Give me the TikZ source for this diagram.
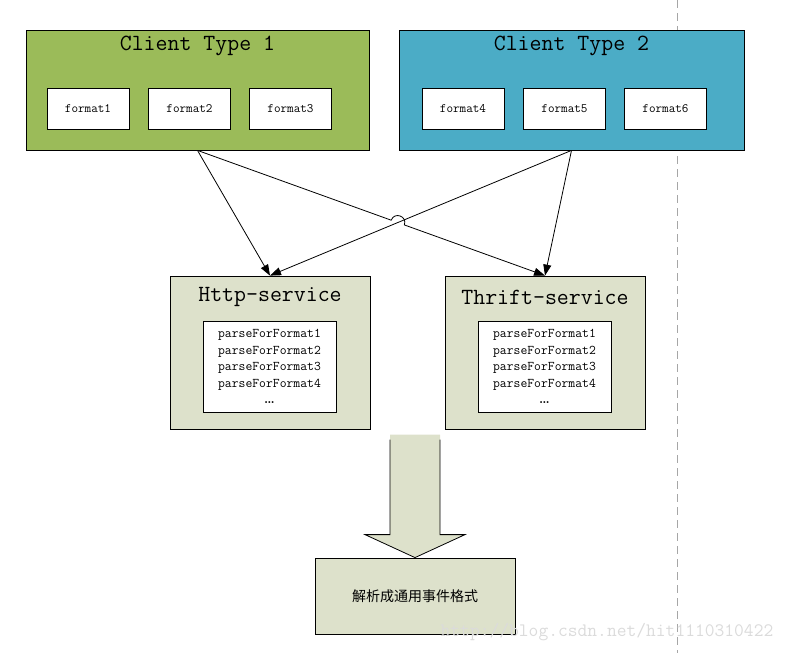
\documentclass[tikz,border=0pt]{standalone}
\usepackage{fontspec}
\newfontfamily\cjkfont{Noto Sans CJK SC}
\usetikzlibrary{calc,positioning,arrows.meta}
\definecolor{clientgreen}{HTML}{9BBB59}
\definecolor{clientblue}{HTML}{4BACC6}
\definecolor{servicetan}{HTML}{DDE1CB}
\tikzset{
  >={Triangle[length=11pt,width=8pt]},
  client/.style={draw=black, line width=0.8pt, minimum width=343pt, minimum height=120pt},
  fmtbox/.style={draw=black, fill=white, line width=0.8pt, minimum width=82pt, minimum height=41pt,
                 font=\ttfamily\fontsize{12.8}{14}\selectfont},
  boxtitle/.style={inner sep=0pt, font=\ttfamily\fontsize{23.2}{26}\selectfont},
  service/.style={draw=black, fill=servicetan, line width=0.8pt, minimum width=200pt, minimum height=153pt},
  parsebox/.style={draw=black, fill=white, line width=0.8pt, minimum width=133pt, minimum height=91pt,
                   align=center, inner sep=0pt, font=\ttfamily\fontsize{13.3}{16.5}\selectfont},
  result/.style={draw=black, fill=servicetan, line width=0.8pt, minimum width=200pt, minimum height=76pt,
                 font=\cjkfont\fontsize{14}{16}\selectfont},
  line/.style={draw, line width=0.8pt, ->}
}
\newcommand{\fmtnode}[2]{\node (f#1) [fmtbox] at (#2,108.5) {format#1};}
\newcommand{\parselist}{parseForFormat1\\parseForFormat2\\parseForFormat3\\parseForFormat4\\{\rmfamily\bfseries …}}

\begin{document}
\begin{tikzpicture}[x=1pt,y=-1pt]
  \useasboundingbox (0,0) rectangle (789,653);

  % separator
  \draw[black!35, line width=0.8pt, dash pattern=on 8pt off 5pt] (677,0) -- (677,653);

  % clients
  \node (c1) [client, fill=clientgreen] at (197.5,90) {};
  \node (c2) [client, fill=clientblue, minimum width=345pt] at (571.5,90) {};
  \node (c1title) [boxtitle] at (197.5,46) {Client Type 1};
  \node (c2title) [boxtitle] at (571.5,46) {Client Type 2};
  \fmtnode{1}{88}
  \fmtnode{2}{189.5}
  \fmtnode{3}{290.5}
  \fmtnode{4}{463}
  \fmtnode{5}{564.5}
  \fmtnode{6}{665.5}

  % services
  \node (http) [service] at (270,352.5) {};
  \node (thrift) [service] at (545,352.5) {};
  \node (httptitle) [boxtitle] at (270,297) {Http-service};
  \node (thrifttitle) [boxtitle] at (545,297) {Thrift-service};
  \node (httpparse) [parsebox] at (269.5,366.5) {\parselist};
  \node (thriftparse) [parsebox] at (544.5,366.5) {\parselist};

  % result
  \node (res) [result] at (415,596) {解析成通用事件格式};

  % watermark
  \node (mark) [inner sep=0pt, text=black!14, font=\ttfamily\fontsize{19}{21}\selectfont]
    at (607,632) {http://blog.csdn.net/hit1110310422};

  % arrows between clients and services
  \coordinate (hop) at (intersection of c1.south--thrift.north and c2.south--http.north);
  \path [line] (c1.south) -- (http.north);
  \path [line] (c2.south) -- (http.north);
  \path [line] (c2.south) -- (thrift.north);
  \path [line] (c1.south) -- ($(hop)!7pt!(c1.south)$)
    to[bend left=90, looseness=1.7] ($(hop)!7pt!(thrift.north)$) -- (thrift.north);

  % big arrow down to result
  \fill[servicetan] ($(res.north)+(-25,-123)$) -- ($(res.north)+(-25,-23)$) -- ($(res.north)+(-50,-23)$)
    -- (res.north) -- ($(res.north)+(50,-23)$) -- ($(res.north)+(25,-23)$) -- ($(res.north)+(25,-123)$) -- cycle;
  \draw[line width=0.8pt] ($(res.north)+(-25,-118)$) -- ($(res.north)+(-25,-23)$) -- ($(res.north)+(-50,-23)$)
    -- (res.north) -- ($(res.north)+(50,-23)$) -- ($(res.north)+(25,-23)$) -- ($(res.north)+(25,-118)$);
\end{tikzpicture}
\end{document}
